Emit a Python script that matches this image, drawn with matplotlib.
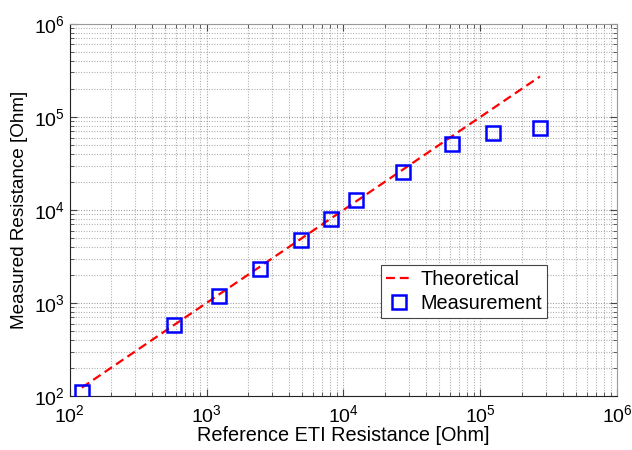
import matplotlib
matplotlib.use("Agg")
import matplotlib.pyplot as plt
from matplotlib.ticker import LogLocator, NullFormatter

plt.rcParams['font.family'] = ['Liberation Sans', 'DejaVu Sans']
plt.rcParams['mathtext.fontset'] = 'custom'
plt.rcParams['mathtext.rm'] = 'Liberation Sans'
plt.rcParams['mathtext.it'] = 'Liberation Sans'
plt.rcParams['mathtext.default'] = 'regular'

# Data
ref_resistance = [123, 580, 1240, 2456, 4920, 8070, 12300, 27200, 61900, 124000, 272000]
measured_resistance = [111, 579, 1197, 2300, 4750, 8000, 12700, 25400, 51300, 67800, 75500]
theoretical = ref_resistance  # y = x

xlabel = "Reference ETI Resistance [Ohm]"
ylabel = "Measured Resistance [Ohm]"
legend_labels = ["Theoretical", "Measurement"]

fig = plt.figure(figsize=(6.32, 4.5), dpi=100)
ax = fig.add_axes([0.110, 0.12, 0.867, 0.827])

ax.plot(ref_resistance, theoretical, linestyle='--', color='#ff0000', lw=1.6,
        dashes=(4, 2.2), label=legend_labels[0], zorder=3)
ax.plot(ref_resistance, measured_resistance, linestyle='none', marker='s',
        markersize=9.5, markerfacecolor='none', markeredgecolor='#0000ff',
        markeredgewidth=1.8, label=legend_labels[1], zorder=4)

ax.set_xscale('log')
ax.set_yscale('log')
ax.set_xlim(1e2, 1e6)
ax.set_ylim(1e2, 1e6)

for axis in (ax.xaxis, ax.yaxis):
    axis.set_major_locator(LogLocator(base=10, numticks=10))
    axis.set_minor_locator(LogLocator(base=10, subs=range(2, 10), numticks=20))
    axis.set_minor_formatter(NullFormatter())

ax.grid(True, which='major', linestyle=(0, (0.8, 1.6)), color='#8a8a8a', lw=0.8)
ax.grid(True, which='minor', linestyle=(0, (0.8, 1.6)), color='#a0a0a0', lw=0.8)
ax.set_axisbelow(True)

ax.tick_params(which='both', direction='in', top=True, right=True, labelsize=14,
               color='#444444')
ax.tick_params(which='major', length=5)
ax.tick_params(which='minor', length=3)
ax.tick_params(axis='x', pad=6)

for s in ax.spines.values():
    s.set_linewidth(0.8)
ax.spines['top'].set_color('#999999')
ax.spines['right'].set_color('#999999')
ax.spines['left'].set_color('#222222')
ax.spines['bottom'].set_color('#222222')

ax.set_xlabel(xlabel, fontsize=14.3, labelpad=0)
ax.set_ylabel(ylabel, fontsize=13.6, labelpad=4)

leg = ax.legend(loc='lower right', bbox_to_anchor=(0.871, 0.21), fontsize=14.3,
                frameon=True, fancybox=False, edgecolor='#444444', framealpha=1,
                handlelength=1.3, handletextpad=0.4, borderpad=0.25,
                labelspacing=0.25, borderaxespad=0)
leg.get_frame().set_linewidth(0.8)

fig.savefig("out.png", dpi=100)
